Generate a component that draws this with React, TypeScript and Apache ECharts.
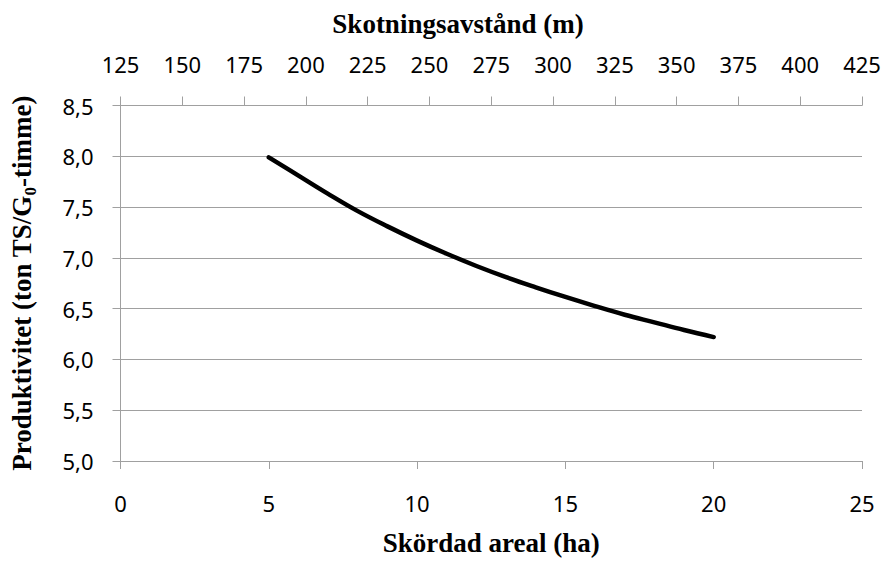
import React, { useEffect, useRef } from "react";
import * as echarts from "echarts";

const areaHa = [5, 6, 7, 8, 9, 10, 11, 12, 13, 14, 15, 16, 17, 18, 19, 20];
const productivity = [7.99, 7.81, 7.63, 7.46, 7.31, 7.17, 7.04, 6.92, 6.81, 6.71, 6.615, 6.525, 6.44, 6.365, 6.29, 6.22];

const bottomTitle = "Skördad areal (ha)";
const topTitle = "Skotningsavstånd (m)";
const yTitle = "Produktivitet (ton TS/G{sub|0}-timme)";

const GRID = "#a0a0a0";
const LABEL_FONT = "'Noto Sans', sans-serif";
const TITLE_FONT = "'Liberation Serif', 'Times New Roman', serif";

export default function App() {
  const ref = useRef<HTMLDivElement>(null);
  useEffect(() => {
    if (!ref.current) return;
    const chart = echarts.init(ref.current, undefined, { renderer: "svg" });
    const labelStyle = { color: "#000", fontFamily: LABEL_FONT, fontSize: 22 };
    chart.setOption({
      animation: false,
      backgroundColor: "#fff",
      grid: { left: 118, right: 23, top: 105.5, bottom: 98, containLabel: false },
      graphic: [
        {
          type: "text",
          x: 458,
          y: 24,
          style: {
            text: topTitle,
            fill: "#000",
            font: `bold 27px ${TITLE_FONT}`,
            textAlign: "center",
            textVerticalAlign: "middle",
          },
        },
      ],
      xAxis: [
        {
          type: "value",
          position: "bottom",
          min: 0,
          max: 25,
          interval: 5,
          name: bottomTitle,
          nameLocation: "middle",
          nameGap: 68,
          nameTextStyle: { color: "#000", fontFamily: TITLE_FONT, fontWeight: "bold", fontSize: 27 },
          axisLine: { show: true, lineStyle: { color: GRID, width: 1 } },
          axisTick: { show: true, inside: false, length: 8, lineStyle: { color: GRID, width: 1 } },
          axisLabel: { ...labelStyle, margin: 31 },
          splitLine: { show: false },
        },
        {
          type: "value",
          position: "top",
          min: 125,
          max: 425,
          interval: 25,
          axisLine: { show: true, lineStyle: { color: GRID, width: 1 } },
          axisTick: { show: true, inside: false, length: 9, lineStyle: { color: GRID, width: 1 } },
          axisLabel: { ...labelStyle, margin: 31 },
          splitLine: { show: false },
        },
      ],
      yAxis: {
        type: "value",
        min: 5,
        max: 8.5,
        interval: 0.5,
        name: yTitle,
        nameLocation: "middle",
        nameGap: 82,
        nameRotate: 90,
        nameTextStyle: {
          color: "#000",
          fontFamily: TITLE_FONT,
          fontWeight: "bold",
          fontSize: 27,
          rich: {
            sub: {
              fontFamily: TITLE_FONT,
              fontWeight: "bold",
              fontSize: 17,
              verticalAlign: "bottom",
              lineHeight: 34,
              color: "#000",
            },
          },
        },
        axisLine: { show: true, lineStyle: { color: GRID, width: 1 } },
        axisTick: { show: true, inside: false, length: 8, lineStyle: { color: GRID, width: 1 } },
        axisLabel: {
          ...labelStyle,
          margin: 27,
          formatter: (v: number) => v.toFixed(1).replace(".", ","),
        },
        splitLine: { show: true, lineStyle: { color: GRID, width: 1 } },
      },
      series: [
        {
          type: "line",
          xAxisIndex: 0,
          data: areaHa.map((x, i) => [x, productivity[i]]),
          smooth: 0.4,
          showSymbol: false,
          lineStyle: { color: "#000", width: 4.5, cap: "round" },
        },
      ],
    });
    return () => chart.dispose();
  }, []);
  return <div ref={ref} style={{ position: "fixed", left: 0, top: 0, width: 885, height: 561 }} />;
}
